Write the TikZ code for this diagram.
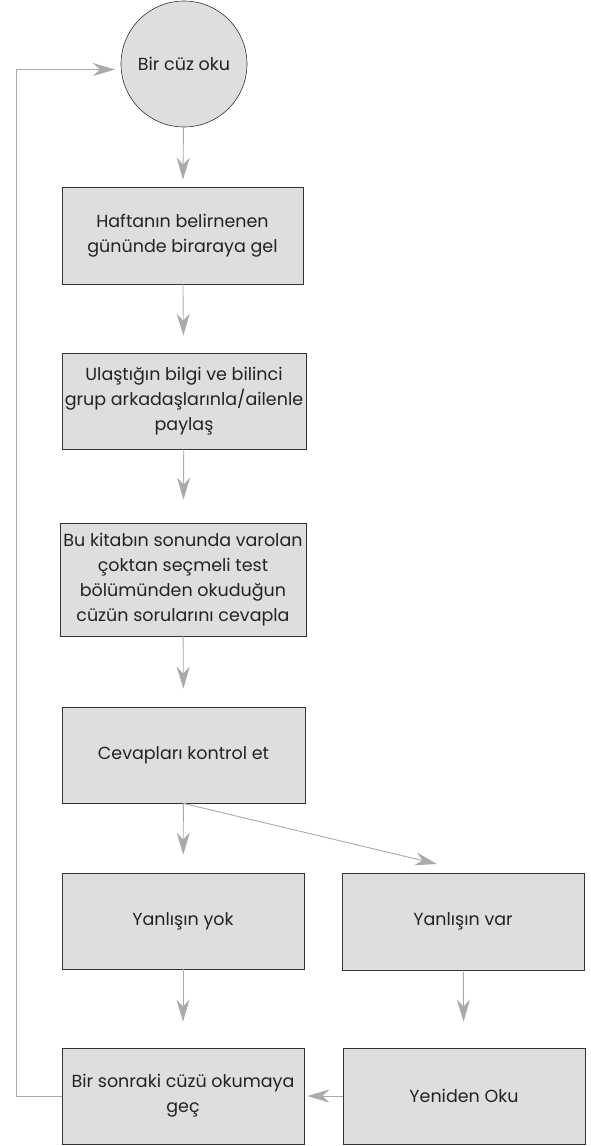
\documentclass[tikz,border=0pt]{standalone}
\usepackage{fontspec}
\setmainfont{Poppins}
\usepackage{tikz}
\usetikzlibrary{arrows.meta}

\definecolor{boxgray}{RGB}{222,222,222}
\definecolor{linegray}{RGB}{170,170,170}
\definecolor{inkgray}{RGB}{35,35,35}

\tikzset{
    stepbox/.style={draw=black!80, line width=0.8pt, fill=boxgray, text=inkgray,
        align=center, inner sep=1pt, font=\fontsize{17.5}{25}\selectfont},
    flowline/.style={draw=linegray, line width=0.9pt,
        -{Stealth[length=22pt, width=13pt, inset=7pt]}}
}

\begin{document}
\begin{tikzpicture}[x=1pt, y=-1pt]
            \useasboundingbox (0,0) rectangle (590,1146);
            % start
            \node[stepbox, circle, minimum size=126pt, line width=0.6pt] (cuz) at (184,64) {Bir cüz oku};
            % main column
            \node[stepbox, minimum width=241pt, minimum height=97pt] (hafta) at (182.5,235.5) {Haftanın belirnenen\\gününde biraraya gel};
            \node[stepbox, minimum width=244pt, minimum height=96pt] (ulas) at (184,401) {Ulaştığın bilgi ve bilinci\\grup arkadaşlarınla/ailenle\\paylaş};
            \node[stepbox, minimum width=246pt, minimum height=113pt] (test) at (183,579.5) {Bu kitabın sonunda varolan\\çoktan seçmeli test\\bölümünden okuduğun\\cüzün sorularını cevapla};
            \node[stepbox, minimum width=243pt, minimum height=96pt] (kontrol) at (183.5,755) {Cevapları kontrol et};
            % two branches
            \node[stepbox, minimum width=242pt, minimum height=96pt] (yok) at (183,921) {Yanlışın yok};
            \node[stepbox, minimum width=242pt, minimum height=97pt] (var) at (463,921.5) {Yanlışın var};
            \node[stepbox, minimum width=242pt, minimum height=96pt] (sonraki) at (183,1096) {Bir sonraki cüzü okumaya\\geç};
            \node[stepbox, minimum width=242pt, minimum height=96pt] (yeniden) at (464,1096) {Yeniden Oku};
            \coordinate (varin) at (437,864);

            \draw[flowline, shorten >=7pt] (cuz) -- (hafta);
            \draw[flowline, shorten >=17pt] (hafta) -- (ulas);
            \draw[flowline, shorten >=23pt] (ulas) -- (test);
            \draw[flowline, shorten >=18pt] (test) -- (kontrol);
            \draw[flowline, shorten >=18pt] (kontrol) -- (yok);
            \draw[flowline] (kontrol.south) -- (varin);
            \draw[flowline, shorten >=26pt] (yok) -- (sonraki);
            \draw[flowline, shorten >=26pt] (var) -- (yeniden);
            \draw[flowline, shorten >=3pt] (yeniden) -- (sonraki);
            % back to the start
            \draw[flowline, shorten >=6pt] (sonraki.west) -- ++(-45,0) |- (cuz.185);
\end{tikzpicture}
\end{document}
